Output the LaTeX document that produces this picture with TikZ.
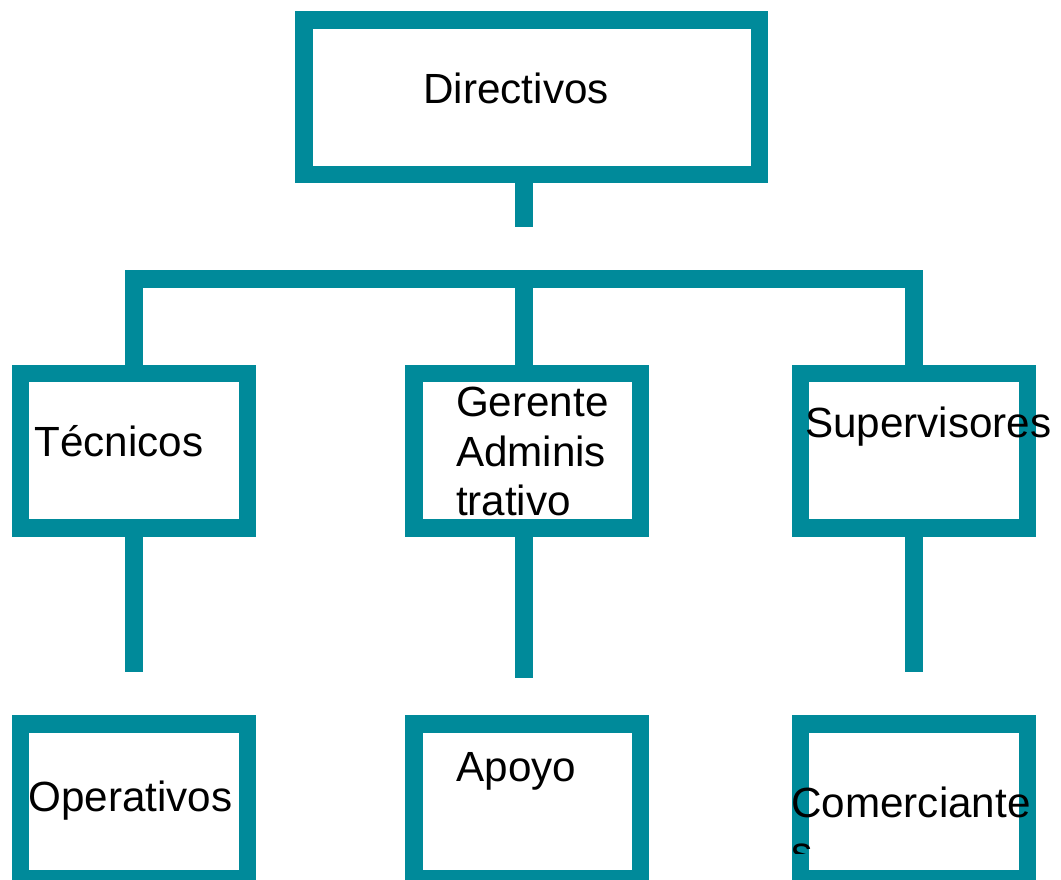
\documentclass[tikz,border=0pt]{standalone}
\usepackage{fontspec}
\setmainfont{Liberation Sans}
\definecolor{orgteal}{RGB}{0,138,154}
\begin{document}
\begin{tikzpicture}[x=1pt,y=-1pt,
  box/.style={draw=orgteal, fill=white, line width=17.5pt, minimum width=226.8pt, minimum height=154.5pt, inner sep=0pt},
  conn/.style={draw=orgteal, line width=17.5pt, line cap=butt, line join=miter},
  lbl/.style={anchor=base west, inner sep=0pt, outer sep=0pt, font=\fontsize{42.2}{49.5}\selectfont, align=left, text=black}]
\useasboundingbox (0,0) rectangle (1061,879);
\clip (0,0) rectangle (1061,879);
% boxes
\node[box, minimum width=455.5pt] (dir) at (531.5,97) {};
\node[box] (tec) at (133.85,450.7) {};
\node[box] (ger) at (527.15,450.5) {};
\node[box] (sup) at (913.85,450.5) {};
\node[box] (ope) at (133.85,801.25) {};
\node[box] (apo) at (527.15,801.25) {};
\node[box] (com) at (913.85,801.25) {};
% connectors
\coordinate (barY) at (0,279);
\draw[conn] ([xshift=-7.5pt]dir.south) -- ++(0,44);
\draw[conn] (tec.north) -- (tec.north |- barY) -- (sup.north |- barY) -- (sup.north);
\draw[conn] ([xshift=-3.15pt]ger.north) -- ([xshift=-3.15pt]ger.north |- barY);
\draw[conn] (tec.south) -- ++(0,135);
\draw[conn] ([xshift=-3.15pt]ger.south) -- ++(0,141.3);
\draw[conn] (sup.south) -- ++(0,135.7);
% labels
\node[lbl] (tdir) at (423.5,103) {Directivos};
\node[lbl] (ttec) at (34.5,456.7) {Técnicos};
\node[lbl] (tger) at (456,515.7) {Gerente\\Adminis\\trativo};
\node[lbl] (tsup) at (805,437.3) {Supervisores};
\node[lbl] (tope) at (28.5,811.7) {Operativos};
\node[lbl] (tapo) at (456.7,781.7) {Apoyo};
\begin{scope}
  \clip (700,700) rectangle (1061,853);
  \node[lbl] (tcom) at (791.3,866.8) {Comerciante\\s};
\end{scope}
\end{tikzpicture}
\end{document}
